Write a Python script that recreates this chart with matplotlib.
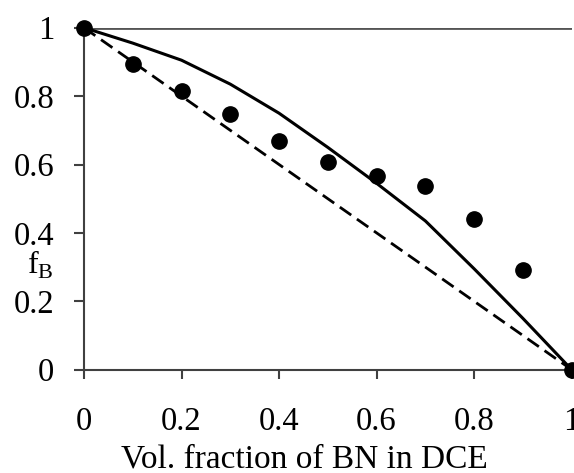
import matplotlib.pyplot as plt
import numpy as np

# measured points
vol_frac = [0, 0.1, 0.2, 0.3, 0.4, 0.5, 0.6, 0.7, 0.8, 0.9, 1.0]
f_b_meas = [1.0, 0.894, 0.815, 0.748, 0.670, 0.606, 0.567, 0.537, 0.440, 0.292, 0.0]

# model curve (solid) and ideal mixing line (dashed)
model_x = [0, 0.1, 0.2, 0.3, 0.4, 0.5, 0.6, 0.7, 0.8, 0.9, 1.0]
model_y = [1.0, 0.955, 0.905, 0.835, 0.75, 0.65, 0.545, 0.435, 0.295, 0.15, 0.0]
ideal_x = [0, 1]
ideal_y = [1, 0]

plt.rcParams['font.family'] = ['Liberation Serif', 'DejaVu Serif']

fig = plt.figure(figsize=(5.74, 4.73), dpi=100)
ax = fig.add_axes([0.1463, 0.2184, 0.8497, 0.723])

ax.plot(ideal_x, ideal_y, color='black', lw=2.0, ls=(0, (5, 2.5)), zorder=2)
ax.plot(model_x, model_y, color='black', lw=2.2, zorder=2)
ax.plot(vol_frac, f_b_meas, 'o', color='black', ms=11, zorder=3, clip_on=False)
ax.axhline(1.0, color='#555555', lw=2.0, zorder=1)

ax.set_xlim(0, 1)
ax.set_ylim(0, 1)
ax.set_xticks([0, 0.2, 0.4, 0.6, 0.8, 1])
ax.set_xticklabels(['0', '0.2', '0.4', '0.6', '0.8', '1'])
ax.set_yticks([0, 0.2, 0.4, 0.6, 0.8, 1])
ax.set_yticklabels(['0', '0.2', '0.4', '0.6', '0.8', '1'])

for s in ['top', 'right']:
    ax.spines[s].set_visible(False)
for s in ['left', 'bottom']:
    ax.spines[s].set_color('#404040')
    ax.spines[s].set_linewidth(1.5)

ax.tick_params(axis='both', direction='out', colors='#404040', labelcolor='black',
               width=1.5, labelsize=23.5)
ax.tick_params(axis='y', length=7.5, pad=14)
ax.tick_params(axis='x', length=6.5, pad=20)

fig.text(0.531, 0.012, 'Vol. fraction of BN in DCE', fontsize=24, ha='center', va='baseline')
fig.text(0.047, 0.44, r'f$_\mathregular{B}$', fontsize=23, ha='left', va='center')

fig.savefig('out.png', dpi=100)
